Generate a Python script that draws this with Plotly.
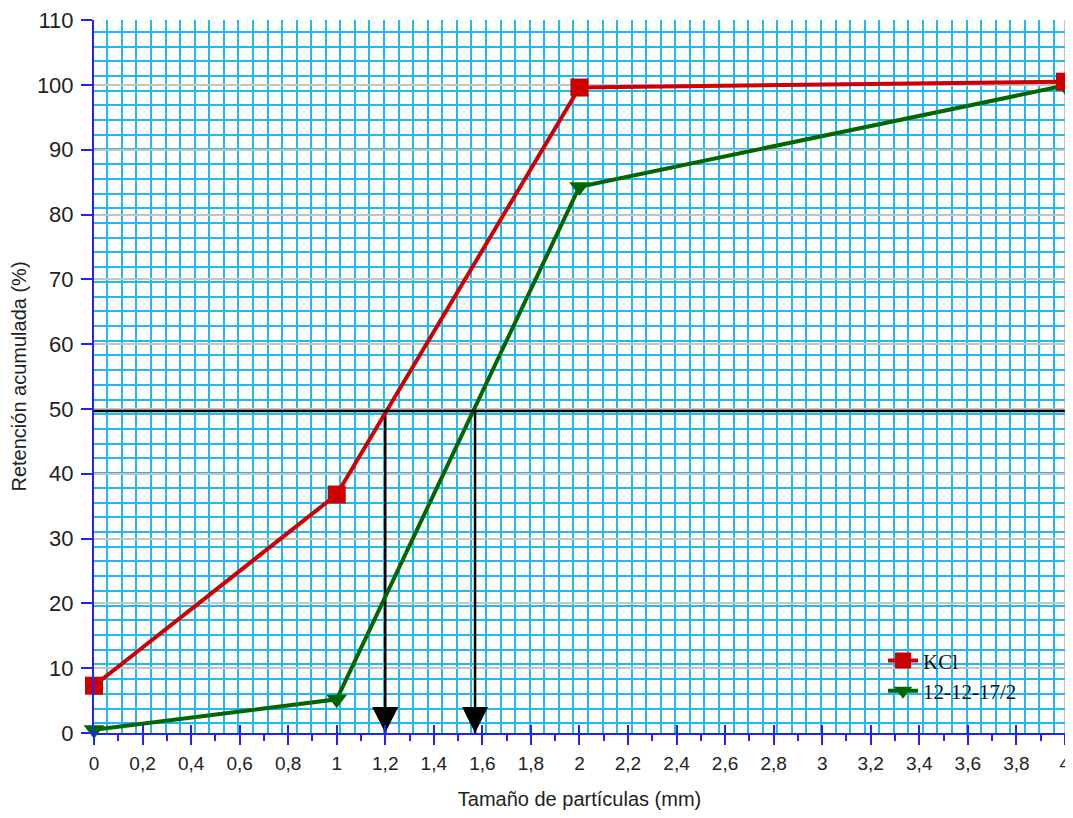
import plotly.graph_objects as go

# ---- data ----
sizes_mm = [0, 1, 2, 4]
kcl = [7.3, 36.8, 99.6, 100.5]
npk = [0.5, 5.2, 84.3, 99.9]
series_names = ["KCl", "12-12-17/2"]
threshold = 49.7
d50 = [1.2, 1.57]
x_ticks = [i / 5 for i in range(21)]
y_ticks = list(range(0, 111, 10))

RED = "#cc0000"
GREEN = "#006600"
BLUE_AX = "#2222ff"
CYAN = "#22b8f0"
GRAY = "#c4c4c4"

fig = go.Figure()

# threshold line
fig.add_trace(go.Scatter(x=[sizes_mm[0], sizes_mm[-1]], y=[threshold, threshold],
                         mode="lines", line=dict(color="black", width=2.5),
                         showlegend=False, hoverinfo="skip", xaxis="x2"))
# d50 arrows
for xv in d50:
    fig.add_trace(go.Scatter(x=[xv, xv], y=[threshold, 0], mode="lines",
                             line=dict(color="black", width=2.5),
                             showlegend=False, hoverinfo="skip"))
    fig.add_trace(go.Scatter(x=[xv], y=[0], mode="markers",
                             marker=dict(symbol="arrow-down", size=26, color="black"),
                             showlegend=False, hoverinfo="skip", cliponaxis=False))

fig.add_trace(go.Scatter(x=sizes_mm, y=npk, name=series_names[1], mode="lines+markers",
                         line=dict(color=GREEN, width=4),
                         marker=dict(symbol="triangle-down", size=18, color=GREEN),
                         cliponaxis=False, legendrank=2))
fig.add_trace(go.Scatter(x=sizes_mm, y=kcl, name=series_names[0], mode="lines+markers",
                         line=dict(color=RED, width=4),
                         marker=dict(symbol="square", size=18, color=RED),
                         cliponaxis=False, legendrank=1))

fig.add_shape(type="line", x0=4, x1=4, y0=0, y1=1, xref="x", yref="paper",
              line=dict(color=GRAY, width=2), layer="below")

# page body has an 8px margin: size the figure to fit the 1073x818 window
fig.update_layout(
    width=1065, height=802,
    margin=dict(l=86, r=8, t=12, b=76.5, autoexpand=False),
    plot_bgcolor="white", paper_bgcolor="white",
    separators=", ",
    font=dict(family="Liberation Sans, Arial, sans-serif", color="#222222"),
    xaxis=dict(range=[0, 4.0005], tickvals=x_ticks, ticks="inside", ticklen=8, tickwidth=2,
               tickcolor=BLUE_AX, showline=True, linecolor=BLUE_AX, linewidth=2,
               showgrid=False, zeroline=False, tickfont=dict(size=19), automargin=False,
               ticklabelstandoff=12, ticklabeloverflow="allow",
               title=dict(text="Tamaño de partículas (mm)", font=dict(size=20), standoff=19),
               minor=dict(tick0=0.055, dtick=0.06, showgrid=True, gridcolor=CYAN,
                          gridwidth=2, ticks="")),
    xaxis2=dict(range=[0, 4.0005], overlaying="x", anchor="y", side="bottom", automargin=False,
                tickvals=x_ticks, ticks="outside", ticklen=11, tickwidth=2, tickcolor=BLUE_AX,
                showticklabels=False, showgrid=False, zeroline=False, showline=False,
                minor=dict(dtick=0.1, tick0=0, ticks="outside", ticklen=7, tickwidth=2,
                           tickcolor=BLUE_AX, showgrid=False)),
    yaxis=dict(range=[0, 110.02], tickvals=y_ticks, ticks="outside", ticklen=11, tickwidth=2,
               tickcolor=BLUE_AX, showline=True, linecolor=BLUE_AX, linewidth=2,
               showgrid=True, gridcolor=GRAY, gridwidth=2, zeroline=False,
               tickfont=dict(size=22), automargin=False, ticklabelstandoff=3,
               ticklabeloverflow="allow",
               title=dict(text="Retención acumulada (%)", font=dict(size=20), standoff=10),
               minor=dict(tick0=1.51, dtick=2.27, showgrid=True, gridcolor=CYAN,
                          gridwidth=2, ticks="")),
    legend=dict(x=0.8126, y=0.13, xanchor="left", yanchor="top",
                bgcolor="rgba(0,0,0,0)", borderwidth=0,
                font=dict(family="Liberation Serif, Times New Roman, serif", size=21,
                          color="#111111"),
                tracegroupgap=0),
)

fig.write_html("out.html")
